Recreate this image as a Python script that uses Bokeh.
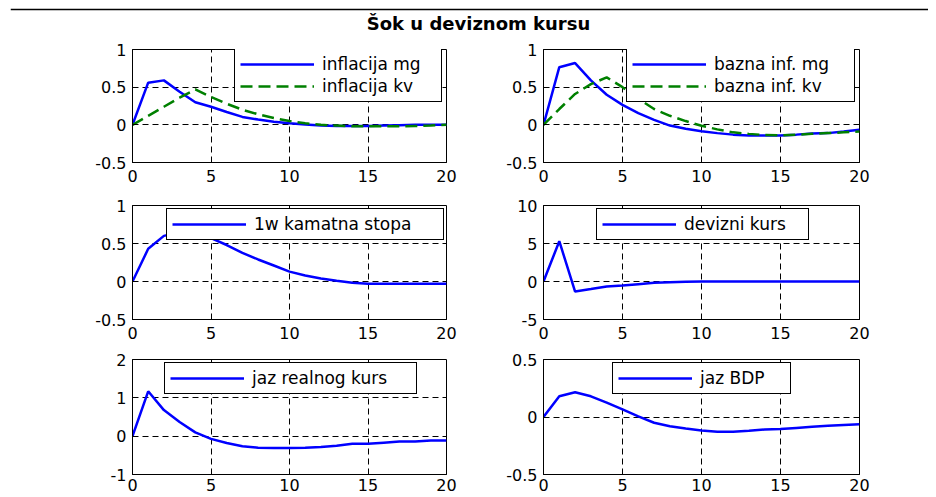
from bokeh.plotting import figure
from bokeh.models import Range1d, FixedTicker, NumeralTickFormatter, Legend, LegendItem, Span, Label
from bokeh.layouts import column, row
from bokeh.embed import file_html
from bokeh.resources import INLINE

# ---------------- data ----------------
periods = list(range(21))
x_ticks = [0, 5, 10, 15, 20]

title_text = "Šok u deviznom kursu"

inflacija_mg = [0, 0.56, 0.59, 0.44, 0.30, 0.24, 0.17, 0.105, 0.07, 0.04, 0.02,
                0.005, -0.01, -0.015, -0.015, -0.015, -0.01, -0.005, 0, 0, 0]
inflacija_kv = [0, 0.12, 0.24, 0.36, 0.47, 0.37, 0.28, 0.20, 0.14, 0.09, 0.05,
                0.02, 0.0, -0.01, -0.02, -0.02, -0.02, -0.02, -0.015, -0.01, 0]

bazna_mg = [0, 0.765, 0.82, 0.59, 0.40, 0.265, 0.155, 0.066, -0.01, -0.053, -0.085,
            -0.11, -0.13, -0.14, -0.14, -0.14, -0.13, -0.115, -0.11, -0.09, -0.065]
bazna_kv = [0, 0.21, 0.41, 0.54, 0.63, 0.50, 0.345, 0.21, 0.12, 0.05, -0.013,
            -0.06, -0.10, -0.12, -0.135, -0.14, -0.13, -0.12, -0.11, -0.10, -0.09]

kamatna_stopa = [0, 0.43, 0.60, 0.65, 0.64, 0.57, 0.48, 0.376, 0.29, 0.21, 0.13,
                 0.08, 0.04, 0.01, -0.015, -0.03, -0.03, -0.03, -0.03, -0.03, -0.03]

devizni_kurs = [0, 5.3, -1.33, -1.0, -0.66, -0.53, -0.35, -0.18, -0.1, -0.02, 0,
                0, 0, 0, 0, 0, 0, 0, 0, 0, 0]

jaz_realnog_kurs = [0, 1.17, 0.68, 0.37, 0.10, -0.07, -0.18, -0.265, -0.30, -0.31, -0.31,
                    -0.30, -0.28, -0.25, -0.20, -0.20, -0.17, -0.14, -0.14, -0.115, -0.11]

jaz_bdp = [0, 0.18, 0.215, 0.18, 0.125, 0.066, 0.006, -0.05, -0.08, -0.10, -0.117,
           -0.128, -0.128, -0.12, -0.108, -0.105, -0.095, -0.085, -0.077, -0.07, -0.063]

y_ticks_1 = [-0.5, 0, 0.5, 1]
y_ticks_2 = [-0.5, 0, 0.5, 1]
y_ticks_3 = [-0.5, 0, 0.5, 1]
y_ticks_4 = [-5, 0, 5, 10]
y_ticks_5 = [-1, 0, 1, 2]
y_ticks_6 = [-0.5, 0, 0.5]

BLUE = "#0000ff"
GREEN = "#008000"
FONT = "DejaVu Sans"

# ---------------- layout constants ----------------
COL1_W, COL2_W = 476, 452
COL1_LEFT, COL1_RIGHT = 132, 30
COL2_LEFT, COL2_RIGHT = 67, 69
ROWS = [  # (height, top border, bottom border, x label standoff)
    (150, 11, 26, 7),
    (157, 17, 26, 7),
    (152, 14, 23, 4),
]


def make_panel(series, y_ticks, col, rowi, legend_xy, label_width):
    width = COL1_W if col == 0 else COL2_W
    left = COL1_LEFT if col == 0 else COL2_LEFT
    right = COL1_RIGHT if col == 0 else COL2_RIGHT
    height, top, bottom, standoff = ROWS[rowi]
    p = figure(width=width, height=height, output_backend="svg", toolbar_location=None,
               x_range=Range1d(x_ticks[0], x_ticks[-1]),
               y_range=Range1d(y_ticks[0], y_ticks[-1]),
               min_border_left=left, min_border_right=right,
               min_border_top=top, min_border_bottom=bottom)
    p.background_fill_color = "white"
    p.border_fill_color = "white"
    p.outline_line_color = "black"
    p.outline_line_width = 1
    p.xaxis.ticker = FixedTicker(ticks=x_ticks)
    p.yaxis.ticker = FixedTicker(ticks=y_ticks)
    p.xaxis.formatter = NumeralTickFormatter(format="0.[0]")
    p.yaxis.formatter = NumeralTickFormatter(format="0.[0]")
    for ax in p.axis:
        ax.major_tick_in = 4
        ax.major_tick_out = 0
        ax.minor_tick_line_color = None
        ax.axis_line_color = "black"
        ax.major_tick_line_color = "black"
        ax.major_label_text_font = FONT
        ax.major_label_text_font_size = "16px"
        ax.major_label_text_color = "black"
    p.xaxis.major_label_standoff = standoff
    p.yaxis.major_label_standoff = 6
    p.grid.grid_line_color = "black"
    p.grid.grid_line_dash = "6 4"
    p.grid.grid_line_width = 1
    items = []
    for name, vals, color, dash in series:
        r = p.line(periods, vals, line_color=color, line_width=2.5, line_dash=dash)
        items.append(LegendItem(label=name, renderers=[r]))
    legend = Legend(items=items, location=legend_xy,
                    border_line_color="black", border_line_width=1, border_line_alpha=1,
                    background_fill_color="white", background_fill_alpha=1,
                    padding=5, spacing=2, margin=0,
                    glyph_width=74, glyph_height=20, label_height=20,
                    label_standoff=8, label_width=label_width,
                    label_text_font=FONT, label_text_font_size="17px",
                    label_text_color="black")
    p.add_layout(legend)
    return p


p1 = make_panel([("inflacija mg", inflacija_mg, BLUE, "solid"),
                 ("inflacija kv", inflacija_kv, GREEN, "12 6")],
                y_ticks_1, 0, 0, (102, 60), 114)
p2 = make_panel([("bazna inf. mg", bazna_mg, BLUE, "solid"),
                 ("bazna inf. kv", bazna_kv, GREEN, "12 6")],
                y_ticks_2, 1, 0, (83, 60), 135)
p3 = make_panel([("1w kamatna stopa", kamatna_stopa, BLUE, "solid")],
                y_ticks_3, 0, 1, (34, 79), 184)
p4 = make_panel([("devizni kurs", devizni_kurs, BLUE, "solid")],
                y_ticks_4, 1, 1, (53, 79), 119)
p5 = make_panel([("jaz realnog kurs", jaz_realnog_kurs, BLUE, "solid")],
                y_ticks_5, 0, 2, (32, 80), 159)
p6 = make_panel([("jaz BDP", jaz_bdp, BLUE, "solid")],
                y_ticks_6, 1, 2, (69, 80), 85)

# title strip with separator line
TITLE_H = 38
TOTAL_W = COL1_W + COL2_W
tp = figure(width=TOTAL_W, height=TITLE_H, output_backend="svg", toolbar_location=None,
            x_range=Range1d(0, TOTAL_W - 10), y_range=Range1d(0, TITLE_H),
            x_axis_type=None, y_axis_type=None,
            min_border_left=10, min_border_right=0, min_border_top=0, min_border_bottom=0)
tp.outline_line_color = None
tp.background_fill_color = "white"
tp.border_fill_color = "white"
tp.add_layout(Span(location=TITLE_H - 9, dimension="width", line_color="black", line_width=1.5))
tp.add_layout(Label(x=468, y=TITLE_H - 23, text=title_text, text_align="center",
                    text_baseline="middle", text_font=FONT, text_font_style="bold",
                    text_font_size="18px", text_color="black"))

layout = column(tp, row(p1, p2), row(p3, p4), row(p5, p6))

open("out.html", "w").write(file_html(layout, INLINE, "Šok u deviznom kursu"))
